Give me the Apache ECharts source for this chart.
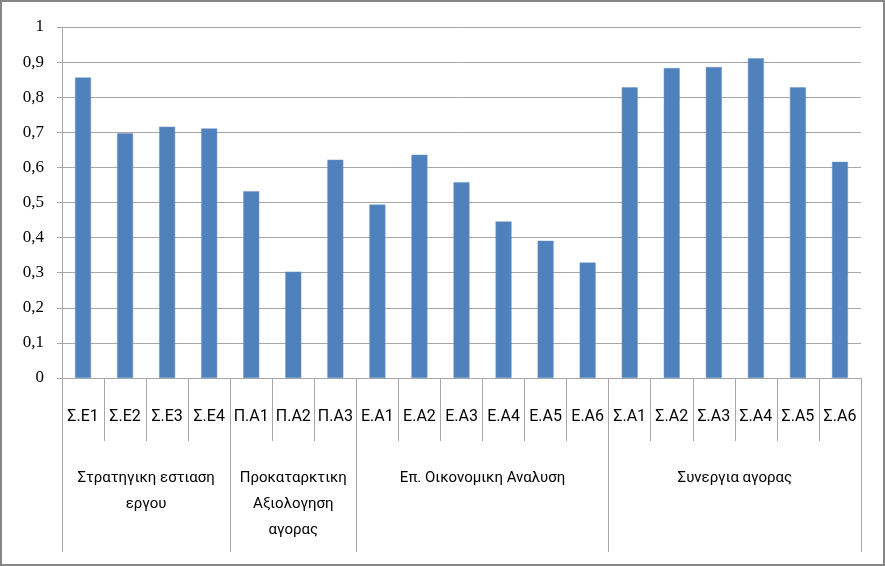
<!DOCTYPE html>
<html>
<head>
<meta charset="utf-8">
<script src="https://cdn.jsdelivr.net/npm/echarts@6/dist/echarts.min.js"></script>
<style>
html,body{margin:0;padding:0;background:#fff;}
#wrap{position:relative;width:885px;height:566px;}
#chart{position:absolute;left:0;top:0;width:885px;height:566px;}
#frame{position:absolute;left:0;top:0;width:885px;height:566px;box-sizing:border-box;border:2px solid #868686;pointer-events:none;}
</style>
</head>
<body>
<div id="wrap"><div id="chart"></div><div id="frame"></div></div>
<script>
const categories = ['Σ.Ε1','Σ.Ε2','Σ.Ε3','Σ.Ε4','Π.Α1','Π.Α2','Π.Α3','Ε.Α1','Ε.Α2','Ε.Α3','Ε.Α4','Ε.Α5','Ε.Α6','Σ.Α1','Σ.Α2','Σ.Α3','Σ.Α4','Σ.Α5','Σ.Α6'];
const values = [0.856,0.697,0.716,0.711,0.532,0.303,0.622,0.494,0.636,0.558,0.446,0.391,0.329,0.828,0.883,0.886,0.911,0.828,0.616];
const groupNames = ['Στρατηγικη εστιαση\nεργου','Προκαταρκτικη\nΑξιολογηση\nαγορας','Επ. Οικονομικη Αναλυση','Συνεργια αγορας'];
const groupSizes = [4,3,6,6];
const yTicks = {min:0, max:1, interval:0.1};

const bounds = [0];
groupSizes.forEach(s => bounds.push(bounds[bounds.length-1] + s));
const centers = groupSizes.map((s,i) => bounds[i] + s/2);

const grid = '#a6a6a6';
const chart = echarts.init(document.getElementById('chart'));
chart.setOption({
  animation:false,
  backgroundColor:'#fff',
  grid:{left:62, right:24, top:27, bottom:188},
  xAxis:[
    {
      type:'category', data:categories, position:'bottom',
      axisLine:{show:true, lineStyle:{color:grid, width:1}},
      axisTick:{show:true, interval:0, length:63, lineStyle:{color:grid}},
      axisLabel:{interval:0, margin:29, lineHeight:20, fontSize:16, color:'#000', fontFamily:'Roboto'},
      splitLine:{show:false}
    },
    {
      type:'value', min:0, max:categories.length, position:'bottom',
      axisLine:{show:false},
      splitLine:{show:false},
      axisTick:{show:true, customValues:bounds, length:174, lineStyle:{color:grid}},
      axisLabel:{
        customValues:centers, margin:87, lineHeight:26, fontSize:15, color:'#000', fontFamily:'Roboto', align:'center',
        formatter:function(v){ const i = centers.indexOf(v); return i>=0 ? groupNames[i] : ''; }
      }
    }
  ],
  yAxis:{
    type:'value', min:yTicks.min, max:yTicks.max, interval:yTicks.interval,
    axisLine:{show:true, lineStyle:{color:grid}},
    axisTick:{show:true, length:5, lineStyle:{color:grid}},
    splitLine:{show:true, lineStyle:{color:grid, width:1}},
    axisLabel:{
      margin:18, fontSize:17, color:'#000', fontFamily:'Liberation Serif',
      formatter:function(v){ if (Math.abs(v) < 1e-9) return '0'; if (Math.abs(v-1) < 1e-9) return '1'; return v.toFixed(1).replace('.', ','); }
    }
  },
  series:[{
    type:'bar', data:values, barWidth:16, xAxisIndex:0,
    itemStyle:{color:'#4f81bd', borderColor:'#6f97c9', borderWidth:0.5}
  }]
});
</script>
</body>
</html>
